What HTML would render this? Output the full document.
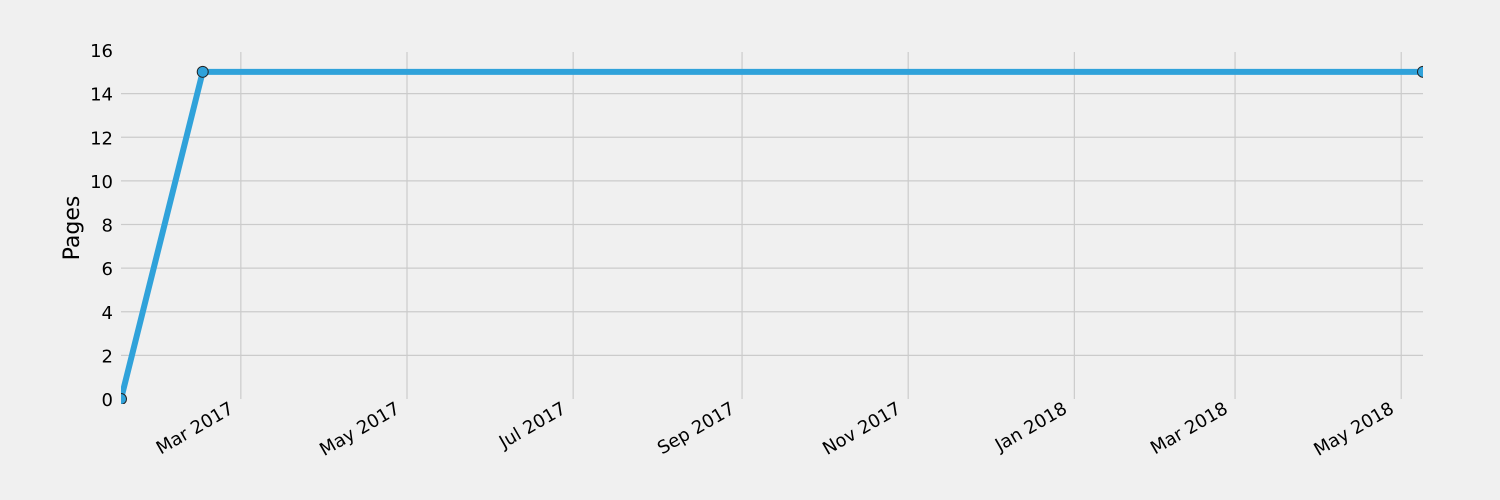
<!DOCTYPE html>
<html><head><meta charset="utf-8"><style>
body{margin:0;background:#f0f0f0;}
svg{display:block;font-family:"DejaVu Sans","Liberation Sans",sans-serif;}
</style></head><body>
<svg id="chart" width="1500" height="500" viewBox="0 0 1500 500">
<rect width="1500" height="500" fill="#f0f0f0"/>
<g id="grid"></g>
<g id="ticks"></g>
<text transform="translate(79,228) rotate(-90)" text-anchor="middle" font-size="22" fill="#000">Pages</text>
<defs><clipPath id="clip"><rect x="121" y="44" width="1302" height="360"/></clipPath></defs>
<g id="series" clip-path="url(#clip)"></g>
</svg>
<script>
const dates = ["2017-01-16","2017-02-15","2018-05-09"];
const pages = [0, 15, 15];
const yTicks = [0,2,4,6,8,10,12,14,16];
const xTickDates = ["2017-03-01","2017-05-01","2017-07-01","2017-09-01","2017-11-01","2018-01-01","2018-03-01","2018-05-01"];
const xTickLabels = ["Mar 2017","May 2017","Jul 2017","Sep 2017","Nov 2017","Jan 2018","Mar 2018","May 2018"];

const NS="http://www.w3.org/2000/svg";
const day = s => Date.parse(s+"T00:00:00Z")/86400000;
const x0 = day("2017-01-16"), x1 = day("2018-05-09");
const X = d => 121 + (day(d)-x0)/(x1-x0)*(1423-121);
const Y = v => 399 - v/16*(399-50);
function mk(tag, attrs, parent){const e=document.createElementNS(NS,tag);for(const k in attrs)e.setAttribute(k,attrs[k]);parent.appendChild(e);return e;}
const grid=document.getElementById('grid'), ticks=document.getElementById('ticks'), series=document.getElementById('series');
yTicks.forEach(v=>{
  if(v!==0 && v!==16){
    const l=mk('line',{x1:121,x2:1423,y1:Y(v),y2:Y(v),stroke:'#cbcbcb','stroke-width':1.2},grid);
    
    
  }
  const t=mk('text',{x:113,y:Y(v)+7,'text-anchor':'end','font-size':18,fill:'#000'},ticks);
  t.textContent=v;
  
  
});
xTickDates.forEach((d,i)=>{
  const x=X(d);
  const l=mk('line',{x1:x,x2:x,y1:52,y2:399,stroke:'#cbcbcb','stroke-width':1.2},grid);
  
  
  const t=mk('text',{transform:`translate(${x-6},${412}) rotate(-30)`,'text-anchor':'end','font-size':18,fill:'#000'},ticks);
  t.textContent=xTickLabels[i];
  
  
});
const pts=dates.map((d,i)=>X(d)+','+Y(pages[i])).join(' ');
const pl=mk('polyline',{points:pts,fill:'none',stroke:'#30a2da','stroke-width':6,'stroke-linejoin':'round'},series);


dates.forEach((d,i)=>{
  const c=mk('circle',{cx:X(d),cy:Y(pages[i]),r:5.5,fill:'#30a2da',stroke:'#222','stroke-width':1},series);
  
  
});
</script>
</body></html>
